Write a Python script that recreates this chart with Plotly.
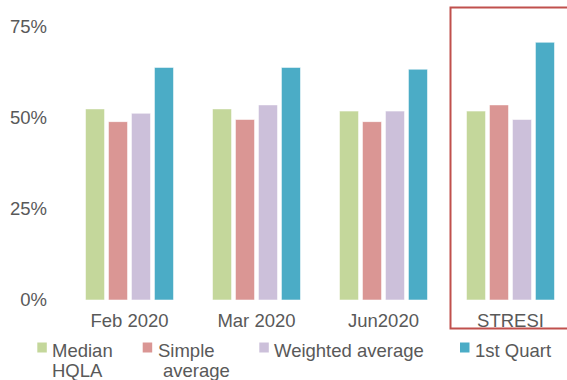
import plotly.graph_objects as go

categories = ["Feb 2020", "Mar 2020", "Jun2020", "STRESI"]
series_names = ["Median<br>HQLA", "Simple<br>average", "Weighted average", "1st Quart"]
median_hqla = [52.5, 52.5, 51.9, 51.9]
simple_avg = [49.0, 49.6, 49.0, 53.6]
weighted_avg = [51.3, 53.6, 51.9, 49.6]
first_quart = [63.9, 63.9, 63.4, 70.8]
y_ticks = [0, 25, 50, 75]
y_tick_labels = ["0%", "25%", "50%", "75%"]

colors = ["#C4D79B", "#DA9694", "#CCC0DA", "#4BACC6"]
values = [median_hqla, simple_avg, weighted_avg, first_quart]

font_family = "Liberation Sans, Arial, sans-serif"
text_color = "#595959"
fsize = 18.5

W, H = 567, 380
M_L, M_R, M_T, M_B = 66, 0, 27, 80
PW, PH = W - M_L - M_R, H - M_T - M_B


def px_x(px):
    """pixel column -> paper x"""
    return (px - M_L) / PW


def px_y(py):
    """pixel row -> paper y"""
    return (H - M_B - py) / PH


fig = go.Figure()
for name, vals, col in zip(series_names, values, colors):
    fig.add_trace(go.Bar(
        x=list(range(len(categories))),
        y=vals,
        name=name.replace("<br>", " "),
        marker=dict(color=col, line=dict(color="rgba(255,255,255,0.55)", width=1)),
        hoverinfo="skip",
        showlegend=False,
    ))

# highlight box around the STRESI group
fig.add_shape(
    type="rect", xref="paper", yref="paper",
    x0=px_x(450.5), x1=px_x(585), y0=px_y(328.5), y1=px_y(7.5),
    line=dict(color="#C0504D", width=2), fillcolor="rgba(0,0,0,0)",
)

# legend: swatch + label for each series, laid out in one row
legend_left = [37.3, 142.7, 259.3, 460.0]
swatch = 9.5
for name, col, left in zip(series_names, colors, legend_left):
    fig.add_shape(
        type="rect", xref="paper", yref="paper",
        x0=px_x(left), x1=px_x(left + swatch),
        y0=px_y(352.5), y1=px_y(342.5),
        line=dict(width=0), fillcolor=col,
    )
    for i, line in enumerate(name.split("<br>")):
        fig.add_annotation(
            text=line, xref="paper", yref="paper",
            x=px_x(left + swatch + 4.5 + (5 if i == 1 and left > 100 else 0)),
            y=px_y(350 + 20 * i),
            xanchor="left", yanchor="middle", showarrow=False,
            font=dict(size=fsize, color=text_color, family=font_family),
            borderpad=0,
        )

fig.update_layout(
    width=W, height=H,
    margin=dict(l=M_L, r=M_R, t=M_T, b=M_B),
    paper_bgcolor="white", plot_bgcolor="white",
    barmode="group", bargap=0.276, bargroupgap=0.17,
    font=dict(family=font_family, size=fsize, color=text_color),
    showlegend=False,
    xaxis=dict(
        range=[-0.5, 3.445], tickvals=list(range(len(categories))),
        ticktext=categories, showgrid=False, zeroline=False, showline=False,
        ticks="", tickfont=dict(size=fsize, color=text_color),
        ticklabelstandoff=7,
    ),
    yaxis=dict(
        range=[0, 75], tickvals=y_ticks, ticktext=y_tick_labels,
        showgrid=False, zeroline=False, showline=False, ticks="",
        tickfont=dict(size=fsize, color=text_color), ticklabelstandoff=18,
    ),
)

fig.write_html("out.html")
